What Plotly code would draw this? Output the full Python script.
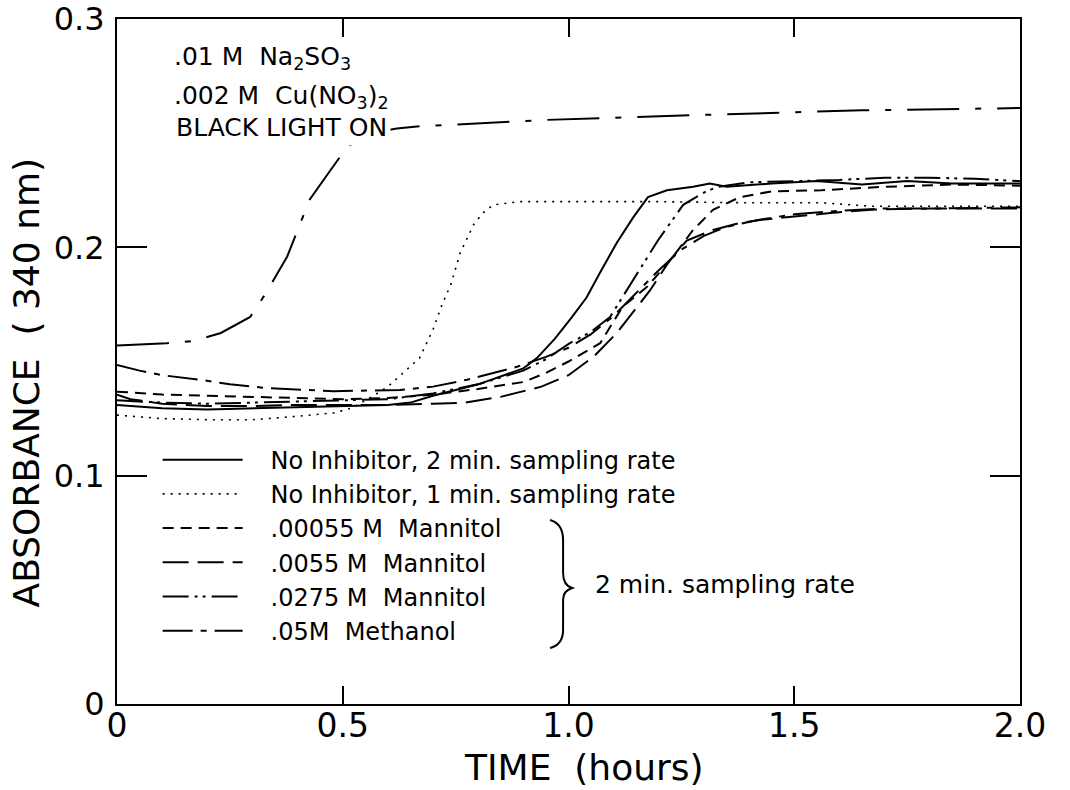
import plotly.graph_objects as go

# ---------------- data ----------------
t_blacklight = [0, 0.11, 0.17, 0.23, 0.295, 0.33, 0.377, 0.427, 0.47, 0.51, 0.56, 0.62, 0.67, 0.95, 1.3, 1.65, 2.0]
a_blacklight = [0.157, 0.158, 0.159, 0.1625, 0.1695, 0.18, 0.196, 0.221, 0.233, 0.244, 0.25, 0.252, 0.253, 0.2558, 0.258, 0.260, 0.261]

t_solid = [0, 0.1, 0.2, 0.3, 0.4, 0.5, 0.6, 0.65, 0.7, 0.8, 0.9, 0.93, 0.97, 1.008, 1.04, 1.07, 1.107, 1.143, 1.176,
           1.218, 1.276, 1.313, 1.35, 1.45, 1.55, 1.65, 1.75, 1.85, 2.0]
a_solid = [0.131, 0.1295, 0.129, 0.1295, 0.130, 0.1305, 0.131, 0.132, 0.135, 0.140, 0.147, 0.1515, 0.160, 0.1695, 0.178,
           0.189, 0.202, 0.213, 0.222, 0.225, 0.2265, 0.228, 0.2265, 0.228, 0.229, 0.2275, 0.229, 0.228, 0.228]

t_dotted = [0, 0.1, 0.2, 0.3, 0.4, 0.48, 0.52, 0.56, 0.6, 0.64, 0.67, 0.7, 0.72, 0.74, 0.76, 0.79, 0.81, 0.833, 0.89,
            1.0, 1.2, 1.4, 1.56, 1.67, 1.8, 2.0]
a_dotted = [0.1265, 0.125, 0.1245, 0.1245, 0.126, 0.1275, 0.1296, 0.134, 0.139, 0.146, 0.1515, 0.164, 0.175, 0.184,
            0.1975, 0.210, 0.215, 0.2186, 0.220, 0.220, 0.220, 0.2195, 0.2195, 0.218, 0.218, 0.218]

t_m00055 = [0, 0.05, 0.1, 0.2, 0.3, 0.4, 0.5, 0.6, 0.7, 0.8, 0.9, 0.95, 1.0, 1.07, 1.12, 1.174, 1.228, 1.276, 1.32,
            1.38, 1.45, 1.56, 1.7, 1.85, 2.0]
a_m00055 = [0.1368, 0.136, 0.1355, 0.135, 0.1345, 0.134, 0.1335, 0.134, 0.1355, 0.138, 0.141, 0.145, 0.150, 0.158,
            0.174, 0.1827, 0.195, 0.2076, 0.2164, 0.222, 0.2245, 0.225, 0.2265, 0.2275, 0.227]

t_m0055 = [0, 0.03, 0.1, 0.2, 0.3, 0.4, 0.5, 0.6, 0.7, 0.77, 0.85, 0.94, 1.0, 1.055, 1.107, 1.18, 1.225, 1.262, 1.32,
           1.38, 1.424, 1.5, 1.58, 1.67, 1.8, 2.0]
a_m0055 = [0.1355, 0.1335, 0.1315, 0.1305, 0.1305, 0.131, 0.131, 0.131, 0.1315, 0.132, 0.1345, 0.139, 0.144, 0.152,
           0.1625, 0.181, 0.1945, 0.203, 0.2076, 0.2107, 0.212, 0.2135, 0.215, 0.2165, 0.217, 0.217]

t_m0275 = [0, 0.1, 0.2, 0.3, 0.4, 0.5, 0.6, 0.7, 0.8, 0.9, 0.95, 1.003, 1.05, 1.092, 1.136, 1.198, 1.254, 1.3, 1.33,
           1.4, 1.5, 1.6, 1.7, 1.8, 1.9, 2.0]
a_m0275 = [0.133, 0.132, 0.1315, 0.132, 0.1325, 0.133, 0.1335, 0.136, 0.140, 0.146, 0.151, 0.158, 0.163, 0.1695,
           0.1835, 0.203, 0.2186, 0.224, 0.2265, 0.2285, 0.229, 0.2295, 0.2305, 0.2305, 0.230, 0.229]

t_methanol = [0, 0.05, 0.1, 0.184, 0.25, 0.33, 0.48, 0.627, 0.7, 0.775, 0.886, 0.95, 1.0, 1.05, 1.1, 1.15, 1.2, 1.25,
              1.3, 1.35, 1.42, 1.5, 1.6, 1.7, 1.8, 2.0]
a_methanol = [0.1485, 0.146, 0.144, 0.142, 0.140, 0.1384, 0.137, 0.1375, 0.139, 0.142, 0.1477, 0.152, 0.156, 0.162,
              0.170, 0.180, 0.190, 0.199, 0.205, 0.209, 0.212, 0.2145, 0.216, 0.217, 0.217, 0.2175]

x_tickvals = [0, 0.5, 1.0, 1.5, 2.0]
x_ticktext = ["0", "0.5", "1.0", "1.5", "2.0"]
y_tickvals = [0, 0.1, 0.2, 0.3]
y_ticktext = ["0", "0.1", "0.2", "0.3"]

# ---------------- figure ----------------
FONT = "DejaVu Sans"
BLACK = "black"
GAP = "\u00a0\u00a0\u00a0"

fig = go.Figure()

fig.add_trace(go.Scatter(x=t_blacklight, y=a_blacklight, mode="lines", showlegend=False,
                         line=dict(color=BLACK, width=2, dash="52px,16px,6px,16px")))

series = [
    ("No Inhibitor, 2 min. sampling rate", t_solid, a_solid, "solid", 2),
    ("No Inhibitor, 1 min. sampling rate", t_dotted, a_dotted, "2px,6px", 1.6),
    (".00055 M  Mannitol", t_m00055, a_m00055, "11px,7px", 2),
    (".0055 M  Mannitol", t_m0055, a_m0055, "26px,9px", 2),
    (".0275 M  Mannitol", t_m0275, a_m0275, "26px,6px,3px,5px,3px,6px", 2),
    (".05M  Methanol", t_methanol, a_methanol, "30px,8px,6px,8px", 2),
]
for name, t, a, dash, w in series:
    fig.add_trace(go.Scatter(x=t, y=a, mode="lines", name=GAP + name,
                             line=dict(color=BLACK, width=w, dash=dash)))

axis_common = dict(showgrid=False, zeroline=False, showline=True, linecolor=BLACK, linewidth=2,
                   mirror="ticks", ticks="inside", tickcolor=BLACK, tickwidth=2)

fig.update_xaxes(range=[0, 2.0], tickvals=x_tickvals, ticktext=x_ticktext, ticklen=18,
                 tickfont=dict(family=FONT, size=33, color=BLACK), ticklabelstandoff=-9, **axis_common)
fig.update_yaxes(range=[0, 0.3], tickvals=y_tickvals, ticktext=y_ticktext, ticklen=30,
                 tickfont=dict(family=FONT, size=32, color=BLACK), ticklabelstandoff=4, **axis_common)

ann_font = dict(family=FONT, size=25, color=BLACK)
annotations = [
    dict(x=0.122, y=0.283, text=".01 M  Na<sub>2</sub>SO<sub>3</sub>"),
    dict(x=0.122, y=0.266, text=".002 M  Cu(NO<sub>3</sub>)<sub>2</sub>"),
    dict(x=0.122, y=0.2527, text="BLACK LIGHT ON", bgcolor="white", borderpad=3),
    dict(x=1.055, y=0.0525, text="2 min. sampling rate"),
]
for a in annotations:
    fig.add_annotation(xref="x", yref="y", xanchor="left", yanchor="middle", showarrow=False,
                       font=ann_font, **a)

# axis titles
fig.add_annotation(xref="paper", yref="paper", x=0.517, y=-0.093, yanchor="middle", xanchor="center",
                   text="TIME  (hours)", showarrow=False, font=dict(family=FONT, size=36, color=BLACK))
fig.add_annotation(xref="paper", yref="paper", x=-0.1, y=0.469, xanchor="center", yanchor="middle",
                   text="ABSORBANCE  ( 340 nm)", textangle=-90, showarrow=False,
                   font=dict(family=FONT, size=36, color=BLACK))

# brace grouping the mannitol / methanol legend rows
fig.add_shape(type="path", xref="x", yref="y", line=dict(color=BLACK, width=2),
              path="M 0.959,0.0806 Q 0.988,0.079 0.988,0.0718 L 0.988,0.0574 Q 0.988,0.052 1.008,0.0508 "
                   "Q 0.988,0.0496 0.988,0.0456 L 0.988,0.0324 Q 0.988,0.026 0.959,0.0245")

fig.update_layout(
    width=1070, height=790,
    margin=dict(l=117, r=50, t=19, b=86, autoexpand=False),
    paper_bgcolor="white", plot_bgcolor="white",
    font=dict(family=FONT, color=BLACK),
    legend=dict(x=0.045, y=0.389, xanchor="left", yanchor="top", bgcolor="rgba(0,0,0,0)",
                font=dict(family=FONT, size=24, color=BLACK), itemwidth=80, tracegroupgap=0),
)

fig.write_html("out.html")
